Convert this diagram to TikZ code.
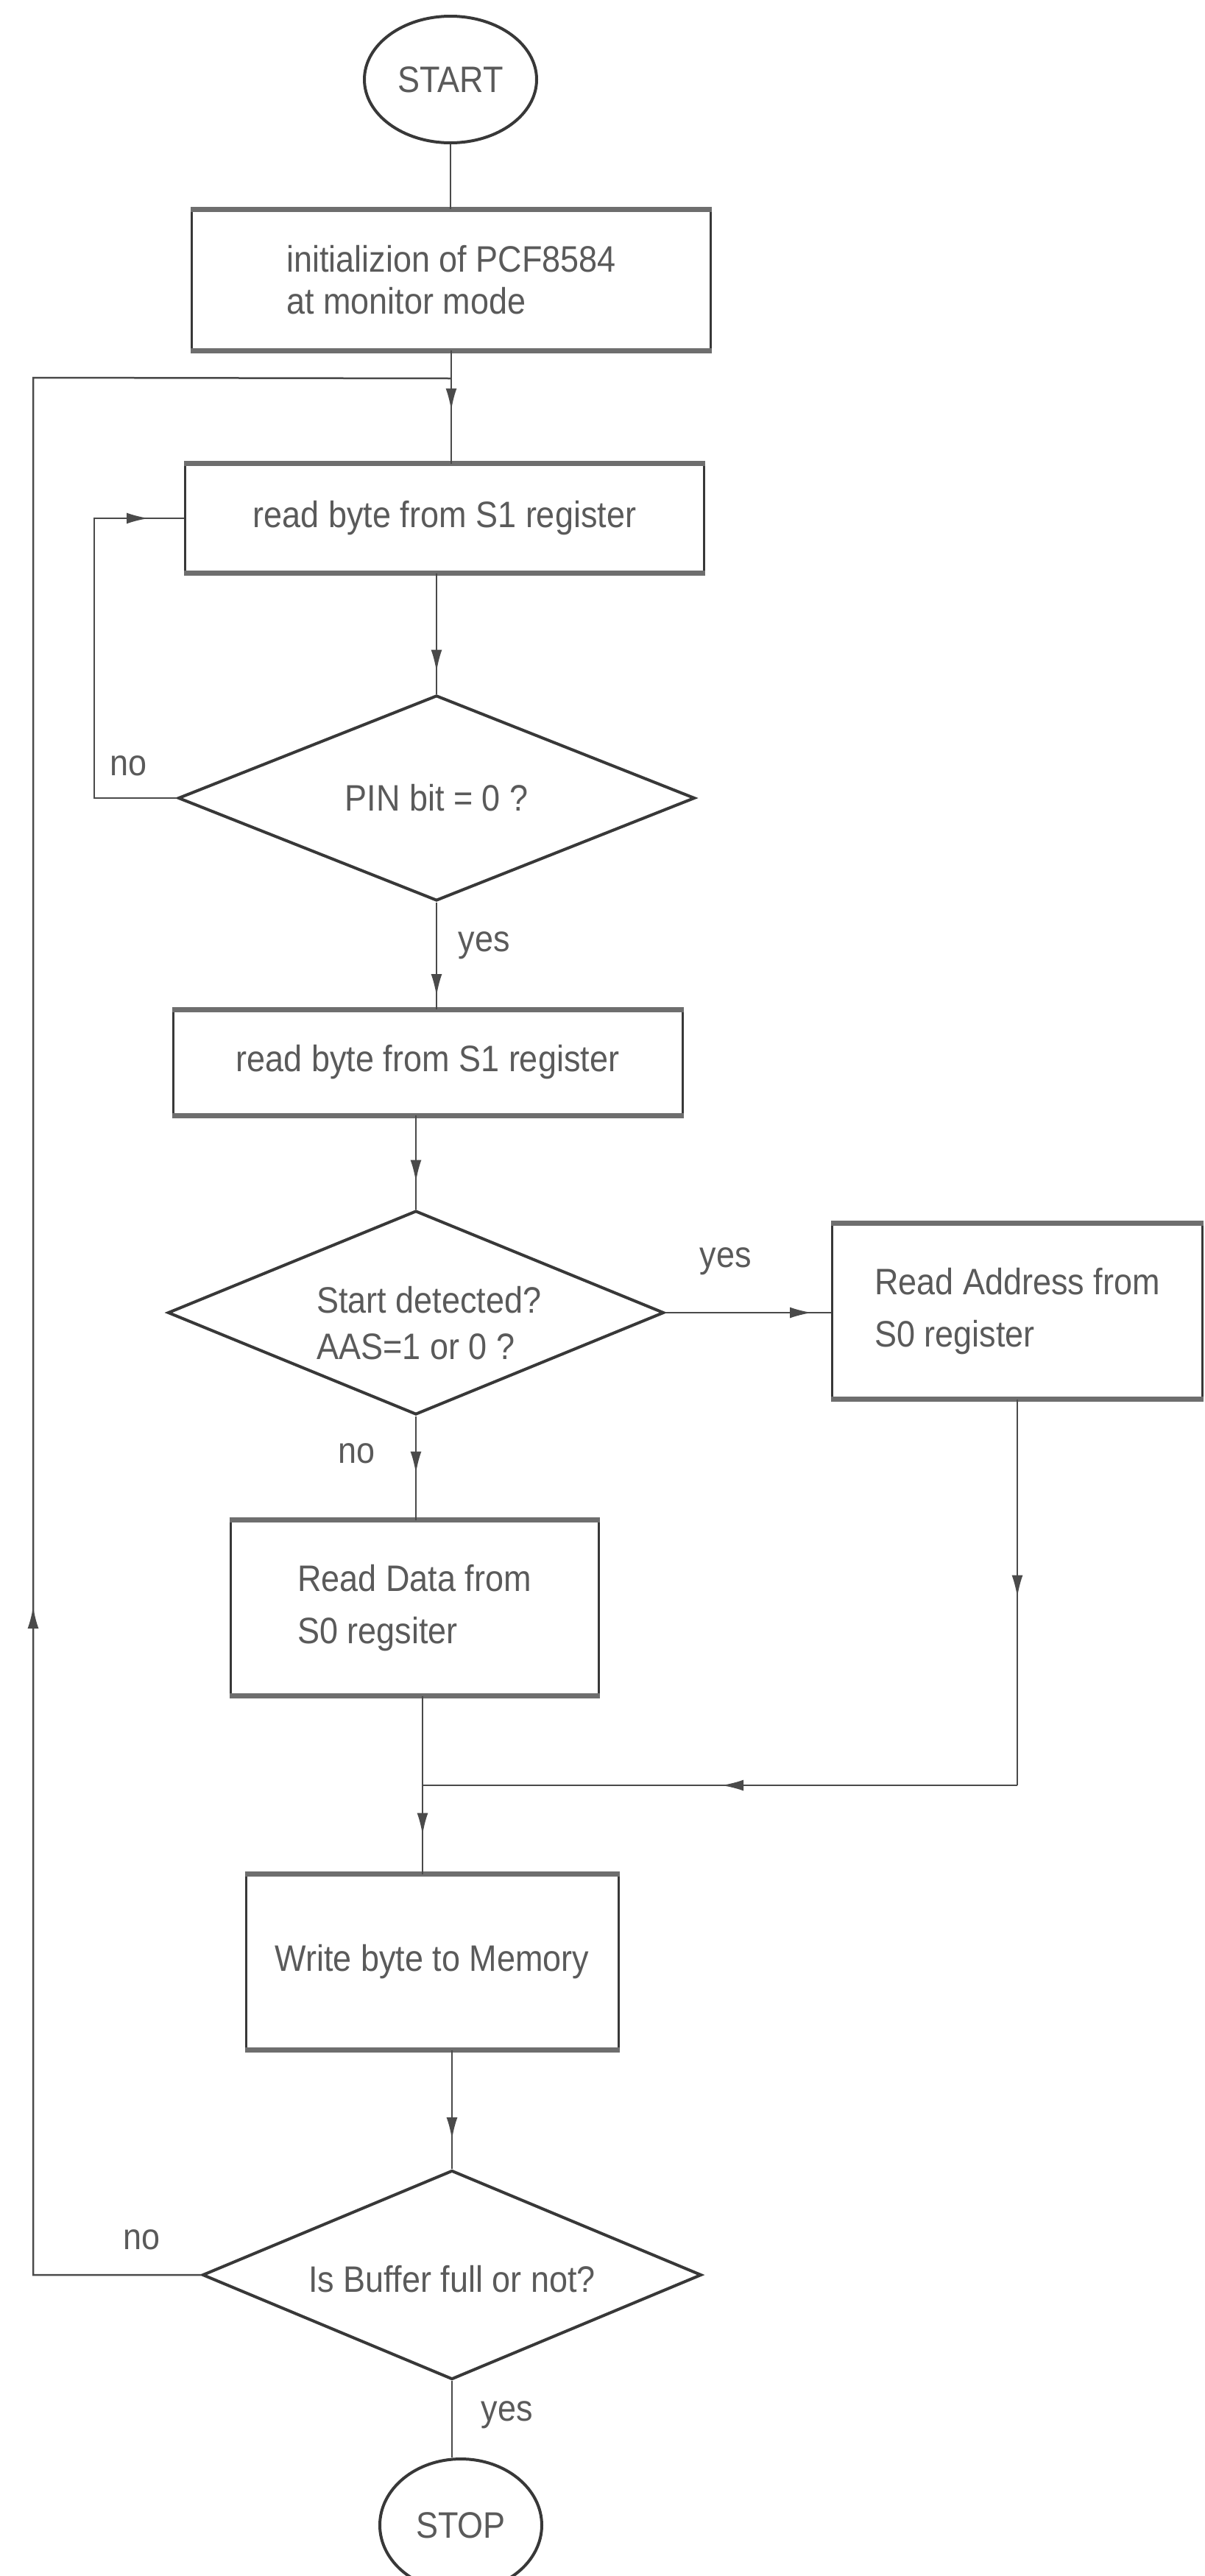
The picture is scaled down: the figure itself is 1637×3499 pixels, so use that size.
\documentclass[tikz,border=0pt]{standalone}
\usepackage{fontspec}
\setmainfont{Liberation Sans}[FakeStretch=0.9]
\usetikzlibrary{shapes.geometric,arrows.meta,decorations.markings}
\definecolor{ink}{HTML}{383838}
\definecolor{lineink}{HTML}{4A4A4A}
\definecolor{txt}{HTML}{5A5A5A}
\definecolor{barc}{HTML}{6E6E6E}
\begin{document}
\begin{tikzpicture}[x=1pt,y=-1pt,
  every node/.style={font=\fontsize{50}{60}\selectfont, text=txt},
  procbox/.style={draw=ink, line width=3pt, rectangle, inner sep=0pt, align=left},
  decision/.style={draw=ink, line width=4pt, diamond, inner sep=0pt},
  dtext/.style={align=left, inner sep=0pt},
  terminal/.style={draw=ink, line width=4pt, ellipse, inner sep=0pt},
  conn/.style={draw=lineink, line width=2.5pt},
  arrowat/.style={postaction={decorate},decoration={markings,mark=at position #1 with {\arrow{Latex[length=30pt,width=15pt]}}}},
  lbl/.style={inner sep=0pt},
  barline/.style={draw=barc, line width=7pt}
]
\fill[white] (0,0) rectangle (1637,3499);
\useasboundingbox (0,0) rectangle (1637,3499);

% nodes
\node[terminal, minimum width=234, minimum height=172] (start) at (612,108) {START};
\node[procbox, minimum width=705, minimum height=189] (init) at (613,380) {initializion of PCF8584\\[-3pt]at monitor mode};
\node[procbox, minimum width=705, minimum height=146] (read1) at (604,704) {read byte from S1 register};
\node[decision, minimum width=702, minimum height=279,
      label={[dtext]center:PIN bit = 0 ?}] (d1) at (593,1084) {};
\node[procbox, minimum width=692, minimum height=141] (read2) at (581,1443) {read byte from S1 register};
\node[decision, minimum width=674, minimum height=277,
      label={[dtext, xshift=18pt, yshift=-14pt]center:Start detected?\\[3pt]AAS=1 or 0 ?}] (d2) at (565,1783) {};
\node[procbox, minimum width=503, minimum height=236] (addr) at (1382,1781) {Read Address from\\[11pt]S0 register};
\node[procbox, minimum width=500, minimum height=236] (rdata) at (563,2184) {Read Data from\\[11pt]S0 regsiter};
\node[procbox, minimum width=506, minimum height=236] (write) at (587,2665) {Write byte to Memory};
\node[decision, minimum width=678, minimum height=284,
      label={[dtext, yshift=-6pt]center:Is Buffer full or not?}] (d3) at (614,3090) {};
\node[terminal, minimum width=220, minimum height=180] (stop) at (626,3430) {STOP};

% thick top/bottom edges of boxes
\foreach \n in {init,read1,read2,addr,rdata,write}{
  \draw[barline] (\n.north west) -- (\n.north east);
  \draw[barline] (\n.south west) -- (\n.south east);
}

% helper coordinates
\path (init.south) ++(0,38) coordinate (j1);
\coordinate (lft) at (45,513);
\coordinate (loopx) at (128,1085);
\coordinate (merge) at (574,2425);

% connectors
\draw[conn] (start.south) -- (start.south |- init.north);
\draw[conn, arrowat=-72pt] (init.south) -- (init.south |- read1.north);
\draw[conn, arrowat=-30pt] (d1.north |- read1.south) -- (d1.north);
\draw[conn, arrowat=-48pt] (d1.west) -- (d1.west -| loopx) |- (read1.west);
\draw[conn, arrowat=-18pt] (d1.south) -- (d1.south |- read2.north);
\draw[conn, arrowat=-37pt] (d2.north |- read2.south) -- (d2.north);
\draw[conn, arrowat=-26pt] (d2.east) -- (d2.east -| addr.west);
\draw[conn, arrowat=-63pt] (d2.south) -- (d2.south |- rdata.north);
\draw[conn] (merge |- rdata.south) -- (merge);
\draw[conn, arrowat=-53pt] (merge) -- (merge |- write.north);
\draw[conn, arrowat=269pt] (addr.south) -- (addr.south |- merge);
\draw[conn, arrowat=402pt] (addr.south |- merge) -- (merge);
\draw[conn, arrowat=-40pt] (d3.north |- write.south) -- (d3.north);
\draw[conn, arrowat=1136pt] (d3.west) -- (d3.west -| lft) -- (lft) -- (j1);
\draw[conn] (d3.south) -- (d3.south |- stop.north);

% labels
\node[lbl] (lno1) at (175,1040) {no};
\node[lbl] (lyes1) at (658,1284) {yes};
\node[lbl] (lyes2) at (986,1713) {yes};
\node[lbl] (lno2) at (485,1974) {no};
\node[lbl] (lno3) at (193,3042) {no};
\node[lbl] (lyes3) at (689,3280) {yes};
\end{tikzpicture}
\end{document}
